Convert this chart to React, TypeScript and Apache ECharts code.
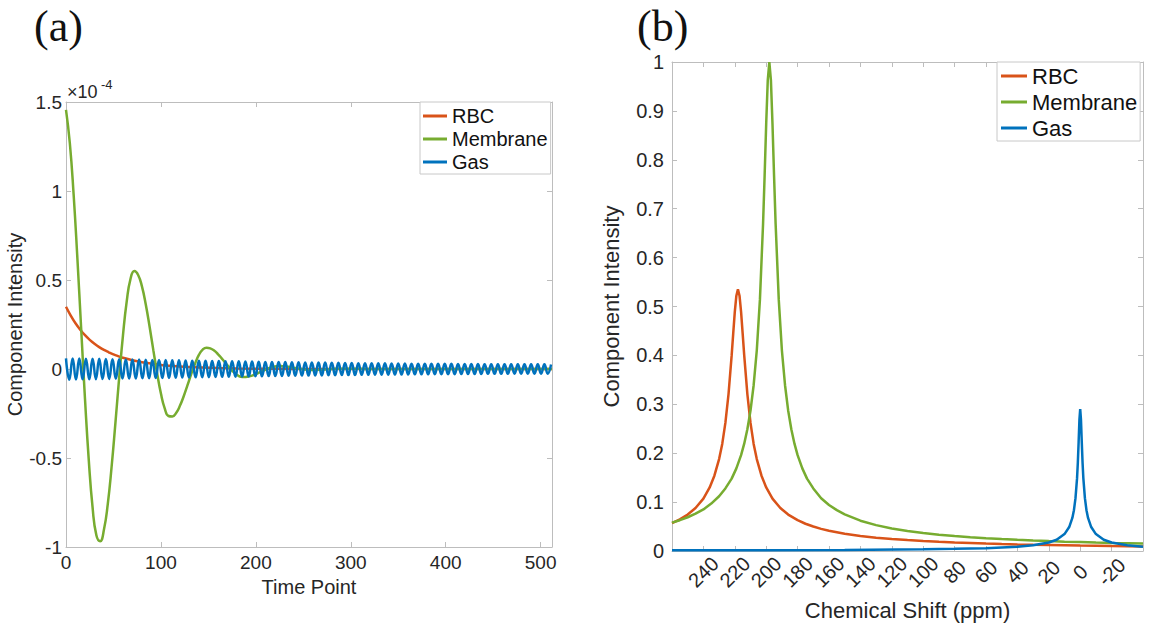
import React, { useEffect, useRef } from 'react';
import * as echarts from 'echarts';

const seriesNames = ['RBC', 'Membrane', 'Gas'];
const seriesColors = ['#D95319', '#77AC30', '#0072BD'];

// ---------- Panel (a): time domain (values in units of 1e-4) ----------
const timeTicks = [0, 100, 200, 300, 400, 500];
const intensityTicksA = [-1, -0.5, 0, 0.5, 1, 1.5];

const rbcTime = [0, 5, 10, 15, 20, 25, 30, 35, 40, 45, 50, 55, 60, 70, 80, 90, 100, 110, 120, 140, 160, 180, 220, 260, 512];
const rbcSignal = [0.35, 0.30, 0.257, 0.221, 0.19, 0.164, 0.142, 0.123, 0.107, 0.094, 0.082, 0.072, 0.063, 0.049, 0.038, 0.030, 0.023, 0.018, 0.014, 0.009, 0.005, 0.003, 0.001, 0, 0];

const membraneTime = [
  0, 4, 8, 12, 16, 20, 24, 28, 32, 36,
  40, 44, 48, 52, 56, 60, 64, 68, 72, 76,
  80, 84, 88, 92, 96, 100, 104, 108, 112, 116,
  120, 124, 128, 132, 136, 140, 144, 148, 152, 156,
  160, 164, 168, 172, 176, 180, 184, 188, 192, 196,
  200, 204, 208, 212, 216, 220, 224, 228, 232, 236,
  240, 244, 248, 252, 256, 260,
  270, 280, 290, 300, 320, 350, 400, 450, 512,
];
const membraneSignal = [
  1.456, 1.271, 0.983, 0.621, 0.225, -0.167, -0.512, -0.778, -0.934, -0.967,
  -0.902, -0.759, -0.552, -0.307, -0.05, 0.188, 0.381, 0.507, 0.55, 0.528,
  0.464, 0.364, 0.24, 0.106, -0.024, -0.138, -0.221, -0.264, -0.267, -0.247,
  -0.207, -0.153, -0.091, -0.027, 0.031, 0.079, 0.109, 0.12, 0.116, 0.104,
  0.084, 0.06, 0.034, 0.008, -0.015, -0.032, -0.043, -0.045, -0.042, -0.037,
  -0.029, -0.019, -0.009, 0.001, 0.009, 0.014, 0.017, 0.016, 0.014, 0.011,
  0.007, 0.003, 0, -0.003, -0.005, -0.006,
  -0.004, 0, 0.002, 0.002, 0, 0, 0, 0, 0,
];

const gasTime = [
  0, 3.5, 7, 10.5, 14, 17.5, 21, 24.5, 28, 31.5,
  35, 38.5, 42, 45.5, 49, 52.5, 56, 59.5, 63, 66.5,
  70, 73.5, 77, 80.5, 84, 87.5, 91, 94.5, 98, 101.5,
  105, 108.5, 112, 115.5, 119, 122.5, 126, 129.5, 133, 136.5,
  140, 143.5, 147, 150.5, 154, 157.5, 161, 164.5, 168, 171.5,
  175, 178.5, 182, 185.5, 189, 192.5, 196, 199.5, 203, 206.5,
  210, 213.5, 217, 220.5, 224, 227.5, 231, 234.5, 238, 241.5,
  245, 248.5, 252, 255.5, 259, 262.5, 266, 269.5, 273, 276.5,
  280, 283.5, 287, 290.5, 294, 297.5, 301, 304.5, 308, 311.5,
  315, 318.5, 322, 325.5, 329, 332.5, 336, 339.5, 343, 346.5,
  350, 353.5, 357, 360.5, 364, 367.5, 371, 374.5, 378, 381.5,
  385, 388.5, 392, 395.5, 399, 402.5, 406, 409.5, 413, 416.5,
  420, 423.5, 427, 430.5, 434, 437.5, 441, 444.5, 448, 451.5,
  455, 458.5, 462, 465.5, 469, 472.5, 476, 479.5, 483, 486.5,
  490, 493.5, 497, 500.5, 504, 507.5, 511,
];
const gasSignal = [
  0.060, -0.060, 0.059, -0.059, 0.059, -0.058, 0.058, -0.058, 0.057, -0.057,
  0.057, -0.056, 0.056, -0.056, 0.055, -0.055, 0.055, -0.054, 0.054, -0.054,
  0.053, -0.053, 0.053, -0.052, 0.052, -0.052, 0.051, -0.051, 0.051, -0.050,
  0.050, -0.050, 0.049, -0.049, 0.049, -0.048, 0.048, -0.048, 0.047, -0.047,
  0.047, -0.046, 0.046, -0.046, 0.045, -0.045, 0.045, -0.044, 0.044, -0.044,
  0.043, -0.043, 0.043, -0.042, 0.042, -0.042, 0.042, -0.041, 0.041, -0.041,
  0.040, -0.040, 0.040, -0.040, 0.039, -0.039, 0.039, -0.038, 0.038, -0.038,
  0.038, -0.037, 0.037, -0.037, 0.037, -0.036, 0.036, -0.036, 0.036, -0.035,
  0.035, -0.035, 0.035, -0.034, 0.034, -0.034, 0.034, -0.034, 0.033, -0.033,
  0.033, -0.033, 0.033, -0.032, 0.032, -0.032, 0.032, -0.032, 0.031, -0.031,
  0.031, -0.031, 0.031, -0.031, 0.030, -0.030, 0.030, -0.030, 0.030, -0.030,
  0.030, -0.029, 0.029, -0.029, 0.029, -0.029, 0.029, -0.029, 0.028, -0.028,
  0.028, -0.028, 0.028, -0.028, 0.028, -0.028, 0.027, -0.027, 0.027, -0.027,
  0.027, -0.027, 0.027, -0.027, 0.027, -0.026, 0.026, -0.026, 0.026, -0.026,
  0.026, -0.026, 0.026, -0.026, 0.026, -0.026, 0.025,
];

// ---------- Panel (b): spectra ----------
const shiftTicks = [240, 220, 200, 180, 160, 140, 120, 100, 80, 60, 40, 20, 0, -20];
const intensityTicksB = [0, 0.1, 0.2, 0.3, 0.4, 0.5, 0.6, 0.7, 0.8, 0.9, 1];

const rbcPpm = [260, 255, 250, 245, 240, 236, 233, 230, 228, 226, 224, 222, 221, 220, 219, 218, 217, 216, 215, 214, 212, 210, 208, 206, 203, 200, 196, 191, 186, 180, 175, 170, 165, 160, 150, 140, 130, 120, 110, 100, 90, 80, 70, 60, 50, 40, 30, 20, 10, 0, -10, -20, -30, -40];
const rbcSpectrum = [0.057, 0.0646, 0.0745, 0.088, 0.107, 0.13, 0.154, 0.188, 0.219, 0.262, 0.321, 0.4, 0.445, 0.489, 0.522, 0.535, 0.522, 0.489, 0.445, 0.4, 0.321, 0.262, 0.219, 0.188, 0.154, 0.13, 0.107, 0.088, 0.0745, 0.063, 0.0557, 0.05, 0.0453, 0.0414, 0.0353, 0.0308, 0.0273, 0.0245, 0.0223, 0.0204, 0.0188, 0.0174, 0.0163, 0.0152, 0.0143, 0.0135, 0.0128, 0.0122, 0.0116, 0.011, 0.0106, 0.0101, 0.0097, 0.0093];

const membranePpm = [260, 255, 250, 245, 240, 235, 230, 226, 222, 219, 216, 214, 212, 210, 208, 206, 204, 202, 201, 200, 199, 198, 197, 196, 195, 194, 192, 190, 188, 186, 184, 182, 180, 177, 174, 170, 165, 160, 155, 150, 140, 130, 120, 110, 100, 90, 80, 70, 60, 50, 40, 30, 20, 10, 0, -10, -20, -30, -40];
const membraneSpectrum = [0.058, 0.063, 0.069, 0.0764, 0.085, 0.097, 0.112, 0.128, 0.148, 0.169, 0.196, 0.2195, 0.249, 0.287, 0.339, 0.41, 0.514, 0.669, 0.768, 0.874, 0.963, 1.0, 0.963, 0.874, 0.768, 0.669, 0.514, 0.41, 0.339, 0.287, 0.249, 0.2195, 0.196, 0.169, 0.148, 0.128, 0.108, 0.094, 0.0835, 0.075, 0.062, 0.0529, 0.046, 0.0409, 0.0367, 0.0333, 0.0305, 0.0281, 0.0261, 0.0243, 0.0228, 0.0214, 0.0202, 0.0191, 0.0182, 0.0173, 0.0165, 0.0158, 0.0151];

const gasPpm = [260, 200, 150, 100, 80, 60, 40, 30, 20, 15, 10, 7, 5, 4, 3, 2, 1.5, 1, 0.5, 0, -0.5, -1, -1.5, -2, -3, -4, -5, -7, -10, -15, -20, -30, -40];
const gasSpectrum = [0.0013, 0.0017, 0.0023, 0.0035, 0.0044, 0.0058, 0.0087, 0.0116, 0.0174, 0.0231, 0.0346, 0.049, 0.0676, 0.0833, 0.108, 0.149, 0.181, 0.223, 0.268, 0.29, 0.268, 0.223, 0.181, 0.149, 0.108, 0.0833, 0.0676, 0.049, 0.0346, 0.0231, 0.0174, 0.0116, 0.0087];

const zip = (xs: number[], ys: number[]) => xs.map((x, i) => [x, ys[i]]);

const FONT = '"Liberation Sans", Arial, Helvetica, sans-serif';
const AXIS_COLOR = '#bdbdbd';
const TEXT_COLOR = '#262626';

const fmtFrom = (ticks: number[]) => (v: number) => {
  const r = Math.round(v * 100) / 100;
  return ticks.indexOf(r) >= 0 ? String(r) : '';
};

function boxAxis(extra: any) {
  return {
    type: 'value',
    axisLine: { show: true, onZero: false, lineStyle: { color: AXIS_COLOR, width: 1 } },
    axisTick: { show: true, inside: true, length: 5, lineStyle: { color: AXIS_COLOR } },
    splitLine: { show: false },
    ...extra,
  };
}

export default function App() {
  const ref = useRef<HTMLDivElement>(null);

  useEffect(() => {
    if (!ref.current) return;
    const chart = echarts.init(ref.current, undefined, { renderer: 'svg' });

    const lineSeries = (name: string, idx: number, axis: number, data: number[][], smooth: any, z: number) => ({
      name,
      type: 'line',
      xAxisIndex: axis,
      yAxisIndex: axis,
      data,
      symbol: 'none',
      showSymbol: false,
      smooth,
      z,
      lineStyle: { color: seriesColors[idx], width: 2.5 },
      itemStyle: { color: seriesColors[idx] },
      emphasis: { disabled: true },
    });

    const legendData = seriesNames.map((n) => ({ name: n, icon: 'rect' }));

    const option: any = {
      animation: false,
      backgroundColor: '#ffffff',
      textStyle: { fontFamily: FONT },
      grid: [
        { left: 66, top: 102, width: 486, height: 445 },
        { left: 672, top: 62, width: 471, height: 489 },
      ],
      xAxis: [
        boxAxis({
          gridIndex: 0, position: 'bottom', min: 0, max: 512, interval: 100,
          name: 'Time Point', nameLocation: 'middle', nameGap: 30,
          nameTextStyle: { fontSize: 20, color: TEXT_COLOR, fontFamily: FONT },
          axisLabel: { fontSize: 19, color: TEXT_COLOR, margin: 6, fontFamily: FONT, formatter: fmtFrom(timeTicks), showMaxLabel: false },
        }),
        boxAxis({ gridIndex: 0, position: 'top', min: 0, max: 512, interval: 100, axisLabel: { show: false } }),
        boxAxis({
          gridIndex: 1, position: 'bottom', min: -40, max: 260, interval: 20, inverse: true,
          name: 'Chemical Shift (ppm)', nameLocation: 'middle', nameGap: 48,
          nameTextStyle: { fontSize: 22, color: TEXT_COLOR, fontFamily: FONT },
          axisLabel: { fontSize: 20, color: TEXT_COLOR, rotate: 45, align: 'center', verticalAlign: 'middle', margin: 21, fontFamily: FONT, formatter: fmtFrom(shiftTicks) },
        }),
        boxAxis({ gridIndex: 1, position: 'top', min: -40, max: 260, interval: 20, inverse: true, axisLabel: { show: false } }),
      ],
      yAxis: [
        boxAxis({
          gridIndex: 0, position: 'left', min: -1, max: 1.5, interval: 0.5,
          name: 'Component Intensity', nameLocation: 'middle', nameGap: 36,
          nameTextStyle: { fontSize: 20, color: TEXT_COLOR, fontFamily: FONT },
          axisLabel: { fontSize: 19, color: TEXT_COLOR, margin: 4, fontFamily: FONT, formatter: fmtFrom(intensityTicksA) },
        }),
        boxAxis({ gridIndex: 0, position: 'right', min: -1, max: 1.5, interval: 0.5, axisLabel: { show: false } }),
        boxAxis({
          gridIndex: 1, position: 'left', min: 0, max: 1, interval: 0.1,
          name: 'Component Intensity', nameLocation: 'middle', nameGap: 50,
          nameTextStyle: { fontSize: 22, color: TEXT_COLOR, fontFamily: FONT },
          axisLabel: { fontSize: 20, color: TEXT_COLOR, margin: 8, fontFamily: FONT, formatter: fmtFrom(intensityTicksB) },
        }),
        boxAxis({ gridIndex: 1, position: 'right', min: 0, max: 1, interval: 0.1, axisLabel: { show: false } }),
      ],
      legend: [
        {
          data: legendData, left: 420, top: 102, orient: 'vertical',
          itemWidth: 24, itemHeight: 3, itemGap: 3, padding: [4, 3, 2, 3],
          borderColor: '#c8c8c8', borderWidth: 1, borderRadius: 0, backgroundColor: '#ffffff',
          textStyle: { fontSize: 20, color: '#111', fontFamily: FONT },
          selectedMode: false,
        },
        {
          data: legendData, left: 997, top: 62, orient: 'vertical',
          itemWidth: 26, itemHeight: 3, itemGap: 4, padding: [3, 3, 2, 4],
          borderColor: '#c8c8c8', borderWidth: 1, borderRadius: 0, backgroundColor: '#ffffff',
          textStyle: { fontSize: 22, color: '#111', fontFamily: FONT },
          selectedMode: false,
        },
      ],
      series: [
        lineSeries('RBC', 0, 0, zip(rbcTime, rbcSignal), 0.4, 2),
        lineSeries('Membrane', 1, 0, zip(membraneTime, membraneSignal), 0.5, 3),
        lineSeries('Gas', 2, 0, zip(gasTime, gasSignal), 0.5, 4),
        lineSeries('RBC', 0, 2, zip(rbcPpm, rbcSpectrum), false, 2),
        lineSeries('Membrane', 1, 2, zip(membranePpm, membraneSpectrum), false, 3),
        lineSeries('Gas', 2, 2, zip(gasPpm, gasSpectrum), false, 4),
      ],
      graphic: [
        { type: 'text', left: 34, top: 4, style: { text: '(a)', font: '44px "Liberation Serif", "DejaVu Serif", serif', fill: '#111' } },
        { type: 'text', left: 637, top: 4, style: { text: '(b)', font: '44px "Liberation Serif", "DejaVu Serif", serif', fill: '#111' } },
        { type: 'text', left: 67, top: 83, style: { text: '×10', font: '18px "Liberation Sans", Arial, sans-serif', fill: TEXT_COLOR } },
        { type: 'text', left: 101, top: 78, style: { text: '-4', font: '13px "Liberation Sans", Arial, sans-serif', fill: TEXT_COLOR } },
      ],
    };

    chart.setOption(option);
    return () => chart.dispose();
  }, []);

  return (
    <div
      ref={ref}
      style={{ position: 'fixed', left: 0, top: 0, width: 1149, height: 632, background: '#fff' }}
    />
  );
}
